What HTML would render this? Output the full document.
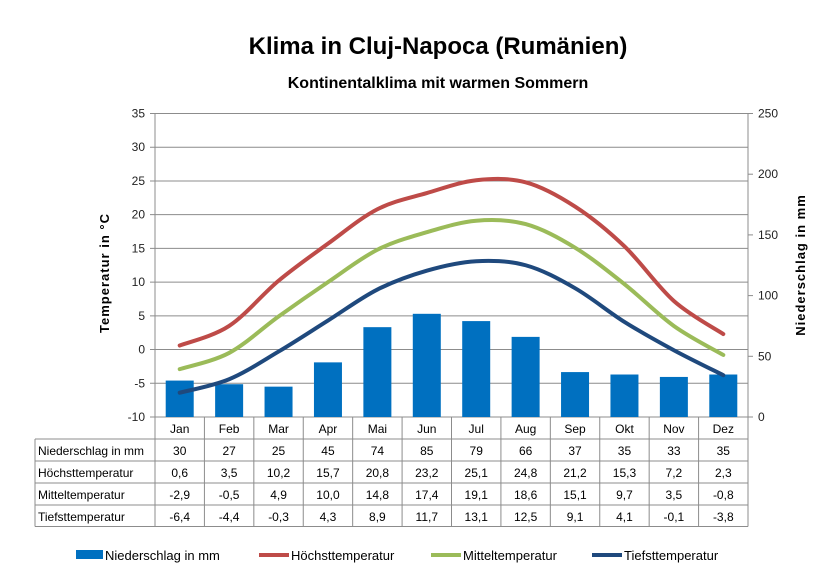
<!DOCTYPE html>
<html><head><meta charset="utf-8"><style>
body{margin:0;background:#fff;font-family:"Liberation Sans",sans-serif}
svg text{font-family:"Liberation Sans","DejaVu Sans",sans-serif}
</style></head><body>
<svg width="838" height="579" xmlns="http://www.w3.org/2000/svg">
<text x="438" y="54" text-anchor="middle" font-size="24" font-weight="bold">Klima in Cluj-Napoca (Rumänien)</text>
<text x="438" y="88" text-anchor="middle" font-size="16" font-weight="bold">Kontinentalklima mit warmen Sommern</text>
<g id="grid"></g><g id="bars"></g><g id="lines"></g><g id="axes"></g><g id="table"></g><g id="legend"></g>
<text transform="translate(109,273) rotate(-90)" text-anchor="middle" font-size="13" font-weight="bold" letter-spacing="1">Temperatur  in  °C</text>
<text transform="translate(805,265) rotate(-90)" text-anchor="middle" font-size="13" font-weight="bold" letter-spacing="1">Niederschlag  in  mm</text>
</svg>
<script>
const months=["Jan","Feb","Mar","Apr","Mai","Jun","Jul","Aug","Sep","Okt","Nov","Dez"];
const precip=[30,27,25,45,74,85,79,66,37,35,33,35];
const tmax=[0.6,3.5,10.2,15.7,20.8,23.2,25.1,24.8,21.2,15.3,7.2,2.3];
const tmean=[-2.9,-0.5,4.9,10.0,14.8,17.4,19.1,18.6,15.1,9.7,3.5,-0.8];
const tmin=[-6.4,-4.4,-0.3,4.3,8.9,11.7,13.1,12.5,9.1,4.1,-0.1,-3.8];
const leftTicks=[-10,-5,0,5,10,15,20,25,30,35];
const rightTicks=[0,50,100,150,200,250];
const fmt=v=>v.toFixed(1).replace('.',',');
const NS="http://www.w3.org/2000/svg";
const X0=155,X1=748,Y0=417,Y1=113.5,cw=(X1-X0)/12;
const yT=v=>Y0-(v+10)/45*(Y0-Y1);
const yP=v=>Y0-v/250*(Y0-Y1);
const xC=i=>X0+cw*(i+0.5);
function mk(parent,tag,attrs,txt){const e=document.createElementNS(NS,tag);for(const k in attrs)e.setAttribute(k,attrs[k]);if(txt!==undefined)e.textContent=txt;document.getElementById(parent).appendChild(e);return e;}
leftTicks.forEach(t=>{const y=yT(t);
 const l=mk('grid','line',{x1:X0-5,x2:X1,y1:y,y2:y,stroke:'#8c8c8c','stroke-width':1});
 
 const tx=mk('axes','text',{x:X0-10,y:y+4,'text-anchor':'end','font-size':12,fill:'#222'},String(t));
 });
rightTicks.forEach(t=>{const y=yP(t);
 mk('axes','line',{x1:X1,x2:X1+5,y1:y,y2:y,stroke:'#8c8c8c'});
 const tx=mk('axes','text',{x:X1+10,y:y+4,'font-size':12,fill:'#222'},String(t));
 });
mk('axes','line',{x1:X0,x2:X0,y1:Y1,y2:Y0,stroke:'#8c8c8c'});
mk('axes','line',{x1:X1,x2:X1,y1:Y1,y2:Y0,stroke:'#8c8c8c'});
precip.forEach((v,i)=>{const b=mk('bars','rect',{x:xC(i)-14,y:yP(v),width:28,height:Y0-yP(v),fill:'#0070c0'});
 });
function path(vals){const p=vals.map((v,i)=>[xC(i),yT(v)]);let d=`M${p[0][0]},${p[0][1]}`;
 for(let i=0;i<p.length-1;i++){const a=p[Math.max(0,i-1)],b=p[i],c=p[i+1],e=p[Math.min(p.length-1,i+2)];
 d+=` C${b[0]+(c[0]-a[0])/6},${b[1]+(c[1]-a[1])/6} ${c[0]-(e[0]-b[0])/6},${c[1]-(e[1]-b[1])/6} ${c[0]},${c[1]}`;}return d;}
[[tmax,'#be4b48','line-hoechsttemperatur'],[tmean,'#9bbb59','line-mitteltemperatur'],[tmin,'#1f497d','line-tiefsttemperatur']].forEach(([s,c,n])=>{
 const p=mk('lines','path',{d:path(s),fill:'none',stroke:c,'stroke-width':4,'stroke-linecap':'round'});
 });
// table
const rowY=[417,439,461,483,505,526.5];
const rows=[["Niederschlag in mm",precip.map(String)],["Höchsttemperatur",tmax.map(fmt)],["Mitteltemperatur",tmean.map(fmt)],["Tiefsttemperatur",tmin.map(fmt)]];
const st={stroke:'#8c8c8c','stroke-width':1};
for(let i=0;i<=12;i++){mk('table','line',Object.assign({x1:X0+cw*i,x2:X0+cw*i,y1:Y0,y2:526.5},st));}
mk('table','line',Object.assign({x1:35,x2:35,y1:439,y2:526.5},st));
for(let r=1;r<rowY.length;r++)mk('table','line',Object.assign({x1:35,x2:X1,y1:rowY[r],y2:rowY[r]},st));
months.forEach((m,i)=>{const t=mk('table','text',{x:xC(i),y:433,'text-anchor':'middle','font-size':12},m);
 });
rows.forEach((r,ri)=>{const y=rowY[ri+1]+16;
 const h=mk('table','text',{x:38,y:y,'font-size':12},r[0]);
 r[1].forEach((v,i)=>{const t=mk('table','text',{x:xC(i),y:y,'text-anchor':'middle','font-size':12},v);
 });});
// legend
const leg=[["Niederschlag in mm",'#0070c0',76,'rect'],["Höchsttemperatur",'#be4b48',259,'line'],["Mitteltemperatur",'#9bbb59',431,'line'],["Tiefsttemperatur",'#1f497d',592,'line']];
leg.forEach(([t,c,x,k])=>{const g=mk('legend','g',{});
 if(k==='rect'){const e=document.createElementNS(NS,'rect');e.setAttribute('x',x);e.setAttribute('y',550);e.setAttribute('width',27);e.setAttribute('height',9);e.setAttribute('fill',c);g.appendChild(e);}
 else{const e=document.createElementNS(NS,'line');e.setAttribute('x1',x);e.setAttribute('x2',x+30);e.setAttribute('y1',555);e.setAttribute('y2',555);e.setAttribute('stroke',c);e.setAttribute('stroke-width',4);g.appendChild(e);}
 const tx=document.createElementNS(NS,'text');tx.setAttribute('x',x+(k==='rect'?29:32));tx.setAttribute('y',560);tx.setAttribute('font-size',13);tx.textContent=t;g.appendChild(tx);});
</script>
</body></html>
